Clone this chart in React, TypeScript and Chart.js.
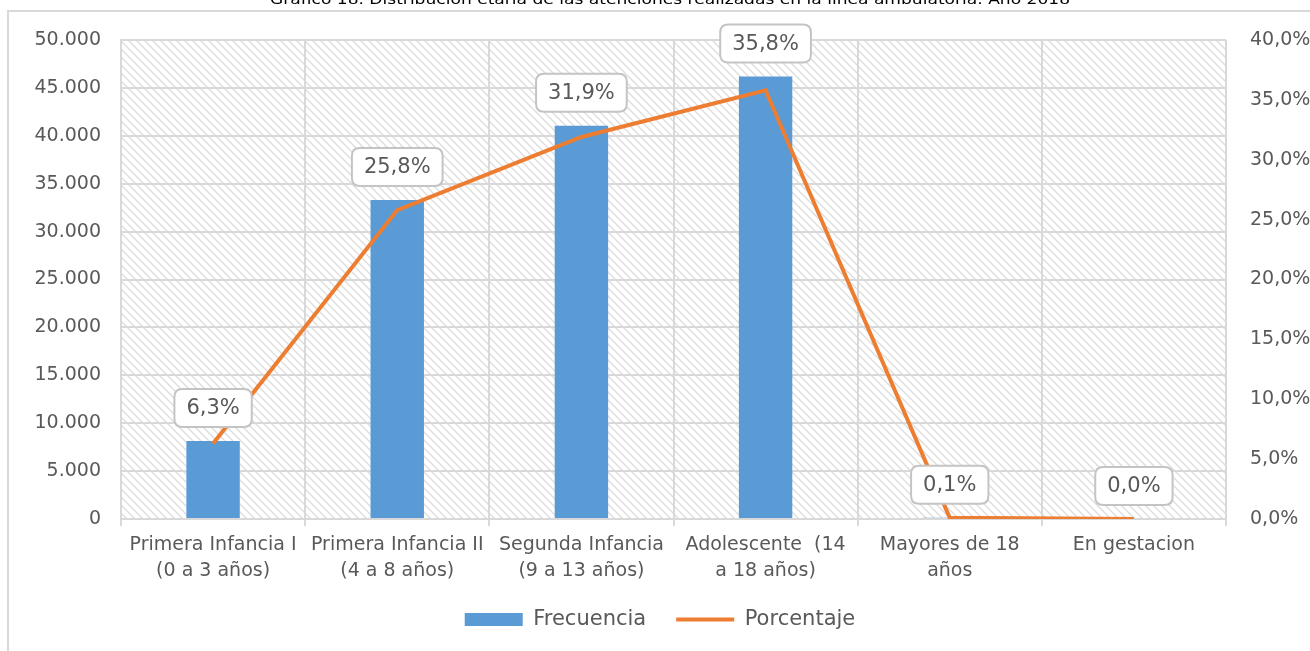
import React, { useEffect, useRef } from "react";
import { Chart, registerables } from "chart.js";

Chart.register(...registerables);

const titleText = "Gráfico 18. Distribución etaria de las atenciones realizadas en la línea ambulatoria. Año 2018";
const categories: string[][] = [
  ["Primera Infancia I", "(0 a 3 años)"],
  ["Primera Infancia II", "(4 a 8 años)"],
  ["Segunda Infancia", "(9 a 13 años)"],
  ["Adolescente  (14", "a 18 años)"],
  ["Mayores de 18", "años"],
  ["En gestacion"],
];
const frecuencia = [8150, 33300, 41050, 46200, 130, 0];
const porcentaje = [6.3, 25.8, 31.9, 35.8, 0.1, 0.0];

const FONT = "'DejaVu Sans', sans-serif";
const GRAY_TEXT = "#595959";
const GRID = "#d9d9d9";

function makePattern(ctx: CanvasRenderingContext2D) {
  const c = document.createElement("canvas");
  const s = 8;
  c.width = s;
  c.height = s;
  const p = c.getContext("2d")!;
  p.fillStyle = "#ffffff";
  p.fillRect(0, 0, s, s);
  p.strokeStyle = "#dcdcdc";
  p.lineWidth = 1.3;
  p.beginPath();
  p.moveTo(-1, -1);
  p.lineTo(s + 1, s + 1);
  p.moveTo(-1, s - 1);
  p.lineTo(1, s + 1);
  p.moveTo(s - 1, -1);
  p.lineTo(s + 1, 1);
  p.stroke();
  return ctx.createPattern(c, "repeat");
}

const decorPlugin = {
  id: "decor",
  beforeDraw(chart: any) {
    const { ctx, chartArea } = chart;
    ctx.save();
    ctx.fillStyle = "#ffffff";
    ctx.fillRect(0, 0, chart.width, chart.height);
    ctx.strokeStyle = GRID;
    ctx.lineWidth = 2;
    ctx.beginPath();
    ctx.moveTo(8, chart.height + 2);
    ctx.lineTo(8, 11);
    ctx.lineTo(chart.width + 2, 11);
    ctx.stroke();
    const pat = makePattern(ctx);
    if (pat) {
      ctx.fillStyle = pat;
      ctx.fillRect(chartArea.left, chartArea.top, chartArea.right - chartArea.left, chartArea.bottom - chartArea.top);
    }
    ctx.fillStyle = "#000000";
    ctx.font = `14px ${FONT}`;
    ctx.textAlign = "center";
    ctx.textBaseline = "alphabetic";
    const w = ctx.measureText(titleText).width;
    const target = 800;
    ctx.translate(670, 4);
    ctx.scale(target / w, 1);
    ctx.fillText(titleText, 0, 0);
    ctx.restore();
  },
  afterDatasetsDraw(chart: any) {
    const { ctx } = chart;
    const meta = chart.getDatasetMeta(1);
    ctx.save();
    ctx.font = `21px ${FONT}`;
    ctx.textAlign = "center";
    ctx.textBaseline = "middle";
    meta.data.forEach((pt: any, i: number) => {
      const txt = porcentaje[i].toFixed(1).replace(".", ",") + "%";
      const tw = ctx.measureText(txt).width;
      const bw = tw + 24;
      const bh = 38;
      const cx = pt.x;
      const cy = pt.y - 33;
      const x0 = cx - bw / 2;
      const y0 = cy - bh / 2;
      const r = 8;
      ctx.beginPath();
      ctx.moveTo(x0 + r, y0);
      ctx.lineTo(x0 + bw - r, y0);
      ctx.quadraticCurveTo(x0 + bw, y0, x0 + bw, y0 + r);
      ctx.lineTo(x0 + bw, y0 + bh - r);
      ctx.quadraticCurveTo(x0 + bw, y0 + bh, x0 + bw - r, y0 + bh);
      ctx.lineTo(x0 + r, y0 + bh);
      ctx.quadraticCurveTo(x0, y0 + bh, x0, y0 + bh - r);
      ctx.lineTo(x0, y0 + r);
      ctx.quadraticCurveTo(x0, y0, x0 + r, y0);
      ctx.closePath();
      ctx.fillStyle = "#ffffff";
      ctx.fill();
      ctx.strokeStyle = "#c4c4c4";
      ctx.lineWidth = 2;
      ctx.stroke();
      ctx.fillStyle = GRAY_TEXT;
      ctx.fillText(txt, cx, cy + 1);
    });
    ctx.restore();
  },
};

export default function App() {
  const ref = useRef<HTMLCanvasElement | null>(null);
  useEffect(() => {
    if (!ref.current) return;
    const chart = new Chart(ref.current, {
      type: "bar",
      data: {
        labels: categories,
        datasets: [
          {
            type: "line",
            label: "Porcentaje",
            data: porcentaje,
            yAxisID: "y1",
            borderColor: "#ED7D31",
            backgroundColor: "#ED7D31",
            borderWidth: 4,
            pointRadius: 0,
            pointStyle: "line",
            tension: 0,
            order: 0,
          } as any,
          {
            type: "bar",
            label: "Frecuencia",
            data: frecuencia,
            yAxisID: "y",
            backgroundColor: "#5B9BD5",
            borderWidth: 0,
            barPercentage: 0.29,
            categoryPercentage: 1,
            pointStyle: "rect",
            order: 1,
          } as any,
        ],
      },
      options: {
        animation: false,
        responsive: false,
        maintainAspectRatio: false,
        layout: { padding: { left: 10, right: 0, top: 40, bottom: 11 } },
        plugins: {
          legend: {
            position: "bottom",
            reverse: true,
            labels: {
              usePointStyle: true,
              pointStyleWidth: 58,
              boxWidth: 58,
              boxHeight: 13,
              padding: 30,
              color: GRAY_TEXT,
              font: { family: FONT, size: 21 },
            },
          },
          tooltip: { enabled: false },
          title: { display: false },
        },
        scales: {
          x: {
            grid: { color: GRID, lineWidth: 2, offset: true, tickLength: 7, drawTicks: true },
            border: { color: GRID, width: 2 },
            ticks: {
              color: GRAY_TEXT,
              font: { family: FONT, size: 19, lineHeight: 1.37 },
              maxRotation: 0,
              autoSkip: false,
              padding: 6,
            },
            afterFit: (s: any) => {
              s.height = 60;
            },
          },
          y: {
            position: "left",
            min: 0,
            max: 50000,
            ticks: {
              stepSize: 5000,
              color: GRAY_TEXT,
              font: { family: FONT, size: 19 },
              padding: 20,
              callback: (v: any) => Number(v).toLocaleString("de-DE"),
            },
            grid: { color: GRID, lineWidth: 2, drawTicks: false },
            border: { color: GRID, width: 2 },
            afterFit: (s: any) => {
              s.width = 111;
            },
          },
          y1: {
            position: "right",
            min: 0,
            max: 40,
            ticks: {
              stepSize: 5,
              color: GRAY_TEXT,
              font: { family: FONT, size: 19 },
              padding: 24,
              callback: (v: any) => Number(v).toFixed(1).replace(".", ",") + "%",
            },
            grid: { display: false, drawTicks: false },
            border: { display: false },
            afterFit: (s: any) => {
              s.width = 84;
            },
          },
        },
      },
      plugins: [decorPlugin],
    } as any);
    return () => chart.destroy();
  }, []);
  return (
    <div style={{ position: "fixed", left: 0, top: 0, width: 1310, height: 651 }}>
      <canvas ref={ref} width={1310} height={651} style={{ width: 1310, height: 651 }} />
    </div>
  );
}
